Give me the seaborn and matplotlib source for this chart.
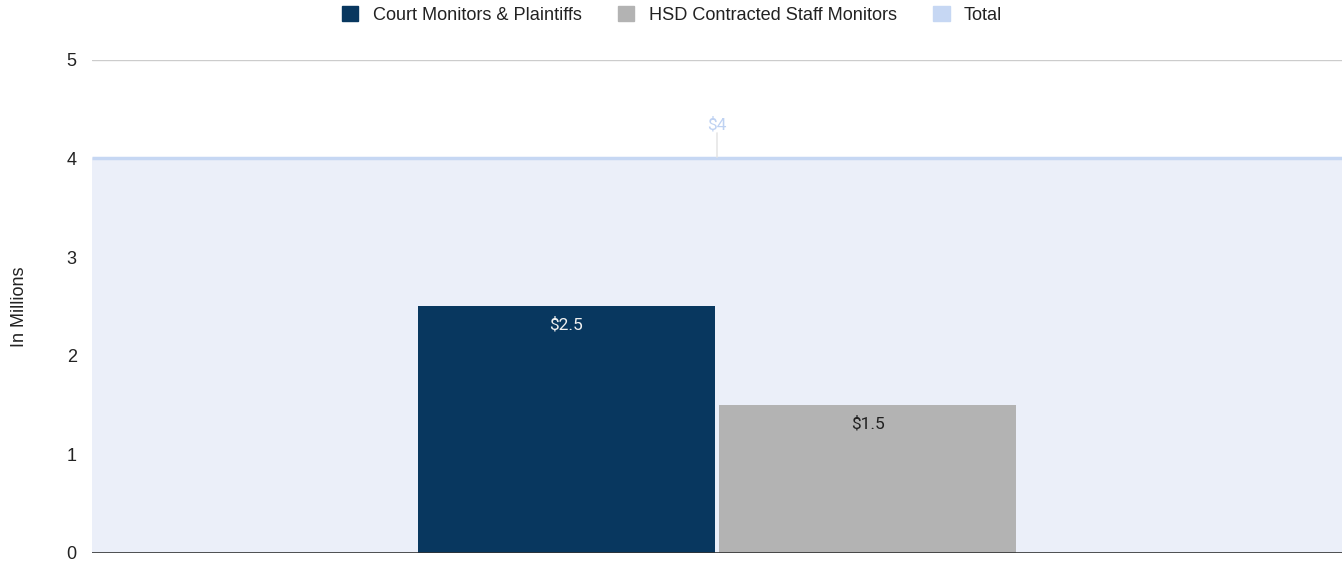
import pandas as pd
import matplotlib
matplotlib.use("Agg")
import matplotlib.pyplot as plt
import matplotlib.patches as mpatches
import seaborn as sns

# ---- data ------------------------------------------------------------------
series_names = ["Court Monitors & Plaintiffs", "HSD Contracted Staff Monitors"]
series_values = [2.5, 1.5]
value_labels = ["$2.5", "$1.5"]
total_name = "Total"
total_value = 4
total_label = "$4"
group = [""]
y_ticks = [0, 1, 2, 3, 4, 5]

colors = ["#08375F", "#B3B3B3"]
total_fill = "#EBEFF9"
total_edge = "#C6D7F3"


def make_plot():
    sns.set_style("white")
    plt.rcParams["font.family"] = ["Liberation Sans", "DejaVu Sans"]

    df = pd.DataFrame({
        "group": group * len(series_names),
        "series": series_names,
        "value": series_values,
    })

    fig = plt.figure(figsize=(13.44, 5.61), dpi=100)
    ax = fig.add_axes([0.0685, 0.0143, 0.93, 0.879])

    sns.barplot(data=df, x="group", y="value", hue="series",
                palette=colors, width=0.482, gap=0.013, linewidth=0,
                saturation=1, legend=False, ax=ax, zorder=3)
    ax.set_xlim(-0.5, 0.5)

    # total drawn as a filled area across the whole plot
    xl = ax.get_xlim()
    ax.fill_between(xl, [0, 0], [total_value, total_value],
                    color=total_fill, zorder=1, lw=0)
    ax.plot(xl, [total_value, total_value], color=total_edge, lw=2.5,
            zorder=2, solid_capstyle="butt")
    ax.plot([0, 0], [total_value + 0.02, total_value + 0.26],
            color="#E6E6E6", lw=1.2, zorder=2)
    ax.text(0, total_value + 0.34, total_label, ha="center", va="center",
            color="#BFD2F2", fontsize=12.5, family="Roboto")

    # value labels inside the bars
    label_colors = ["#F0F0F0", "#222222"]
    for patch, lab, c in zip(ax.patches, value_labels, label_colors):
        cx = patch.get_x() + patch.get_width() / 2
        ax.text(cx, patch.get_height() - 0.19, lab, ha="center",
                va="center", color=c, fontsize=12.5, family="Roboto",
                zorder=4)

    ax.set_ylim(0, 5)
    ax.set_yticks(y_ticks)
    ax.yaxis.grid(True, color="#CCCCCC", lw=1)
    ax.set_axisbelow(True)
    for g in ax.get_ygridlines():
        g.set_zorder(0.5)
    ax.axhline(0, color="#333333", lw=1.2, zorder=5)
    ax.tick_params(axis="y", labelsize=13, length=0, pad=11,
                   labelcolor="#222222")
    ax.set_xticks([])
    ax.set_xlabel("")
    ax.set_ylabel("In Millions", fontsize=13, color="#222222", labelpad=28)
    sns.despine(ax=ax, left=True, bottom=True)

    handles = [mpatches.Patch(color=c, label=n)
               for c, n in zip(colors, series_names)]
    handles.append(mpatches.Patch(color=total_edge, label=total_name))
    fig.legend(handles=handles, loc="upper center", ncol=3,
               bbox_to_anchor=(0.5, 1.018), frameon=False, fontsize=13.1,
               handlelength=0.9, handleheight=0.9, columnspacing=2.0,
               handletextpad=0.8, labelcolor="#222222")

    fig.savefig("out.png", dpi=100)


def main():
    make_plot()


if __name__ == "__main__":
    main()
